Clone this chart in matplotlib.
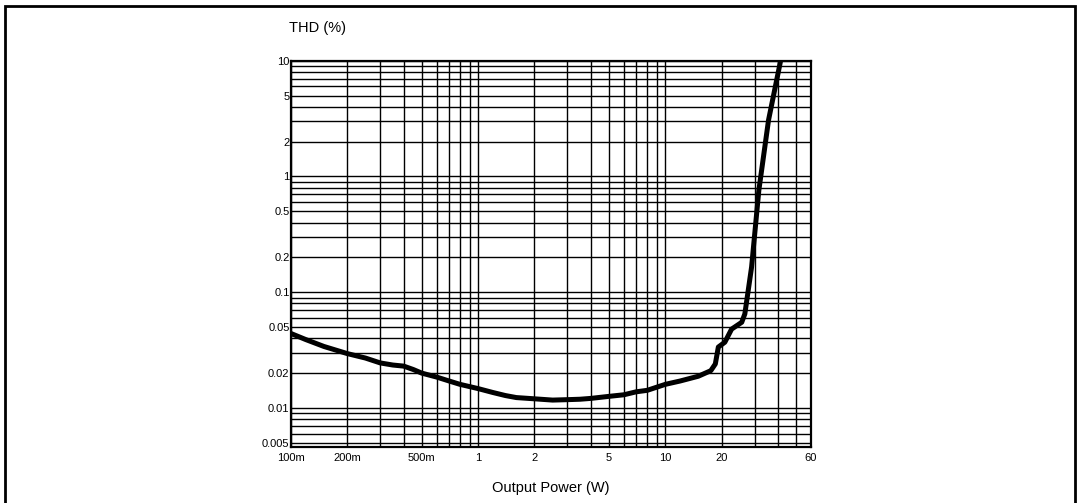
import matplotlib
matplotlib.use('Agg')
import matplotlib.pyplot as plt
from matplotlib.ticker import FixedLocator, FixedFormatter, LogLocator, NullFormatter
from matplotlib.patches import Rectangle

plt.rcParams['font.family'] = ['Liberation Sans', 'DejaVu Sans']

# THD vs output power
power = [0.1, 0.12, 0.15, 0.2, 0.25, 0.3, 0.35, 0.4, 0.45, 0.5, 0.6, 0.7, 0.8, 1.0,
         1.2, 1.4, 1.6, 2.0, 2.5, 3.0, 3.5, 4.0, 5.0, 6.0, 7.0, 8.0, 10, 12, 15,
         17.5, 18.5, 19.2, 20.8, 22.6, 25.6, 26.6, 28.9, 31.6, 35.6, 41.3]
thd = [0.044, 0.039, 0.034, 0.0295, 0.027, 0.0245, 0.0235, 0.023, 0.0215, 0.0200,
       0.0185, 0.0171, 0.0160, 0.0147, 0.0136, 0.0128, 0.0123, 0.0120, 0.0117, 0.0118,
       0.0119, 0.0121, 0.0126, 0.013, 0.0138, 0.0142, 0.0160, 0.0171, 0.0188,
       0.021, 0.024, 0.0336, 0.037, 0.048, 0.055, 0.065, 0.165, 0.76, 3.07, 10.0]

xticks = [0.1, 0.2, 0.5, 1, 2, 5, 10, 20, 60]
xlabels = ['100m', '200m', '500m', '1', '2', '5', '10', '20', '60']
yticks = [0.005, 0.01, 0.02, 0.05, 0.1, 0.2, 0.5, 1, 2, 5, 10]
ylabels = ['0.005', '0.01', '0.02', '0.05', '0.1', '0.2', '0.5', '1', '2', '5', '10']

fig = plt.figure(figsize=(10.8, 5.03), dpi=100)
ax = fig.add_axes([0.2694, 0.1113, 0.4815, 0.768])

ax.plot(power, thd, color='black', lw=3.6, solid_capstyle='round', zorder=3)

ax.set_xscale('log')
ax.set_yscale('log')
ax.set_xlim(0.1, 60)
ax.set_ylim(0.0046, 10)

ax.xaxis.set_major_locator(FixedLocator(xticks))
ax.xaxis.set_major_formatter(FixedFormatter(xlabels))
ax.yaxis.set_major_locator(FixedLocator(yticks))
ax.yaxis.set_major_formatter(FixedFormatter(ylabels))
for a in (ax.xaxis, ax.yaxis):
    a.set_minor_locator(LogLocator(base=10, subs=range(1, 10), numticks=20))
    a.set_minor_formatter(NullFormatter())

ax.grid(True, which='both', color='black', lw=1.0)
ax.tick_params(which='both', length=0, labelsize=8, pad=4)
ax.tick_params(axis='y', pad=1)
for s in ax.spines.values():
    s.set_linewidth(1.6)

fig.text(0.2944, 0.944, 'THD (%)', fontsize=10.5, ha='center', va='center')
fig.text(0.510, 0.030, 'Output Power (W)', fontsize=10.5, ha='center', va='center')

# frame around the figure
fig.add_artist(Rectangle((0.005, -0.1), 0.99, 1.089, transform=fig.transFigure,
                         fill=False, lw=2, edgecolor='black'))

fig.savefig('out.png', dpi=100)
